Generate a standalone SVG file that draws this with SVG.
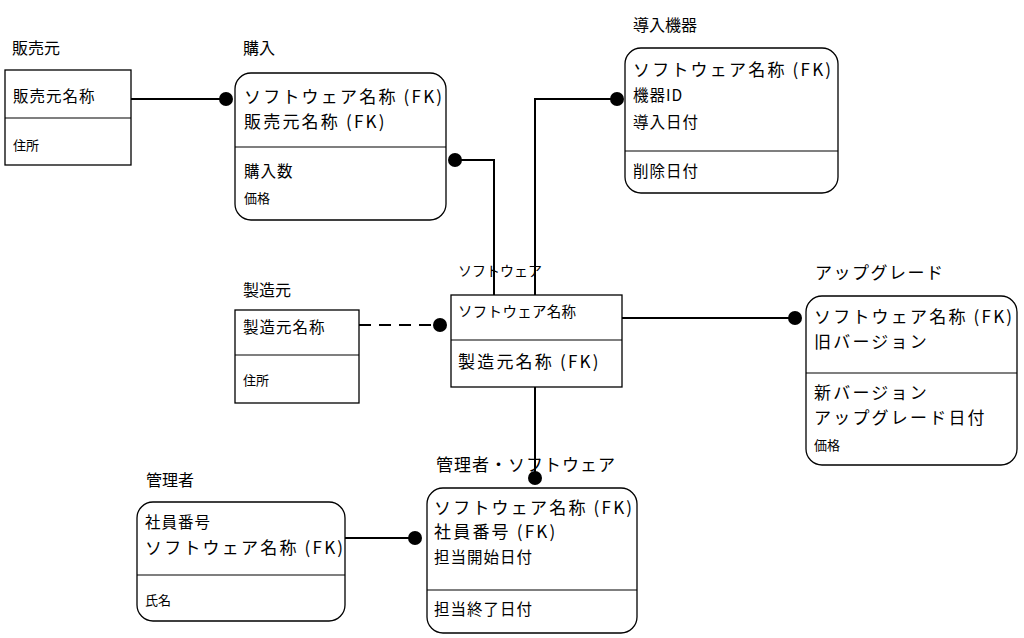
<svg xmlns="http://www.w3.org/2000/svg" width="1024" height="638" viewBox="0 0 1024 638">
<style>
.bg{fill:#fff}
.box{fill:#fff;stroke:#000;stroke-width:1.3}
.div{stroke:#000;stroke-width:1.2}
text{font-family:"Noto Sans CJK JP","Liberation Sans",sans-serif;fill:#000}
.t{font-size:16px}
.l{font-size:17px;letter-spacing:2.2px}
.m{font-size:15.5px;letter-spacing:1px}
.s{font-size:13px}
.c{stroke:#000;stroke-width:2;fill:none}
.d{fill:#000}
</style>
<rect class="bg" x="0" y="0" width="1024" height="638"/>
<g id="connectors">
<line class="c" x1="131" y1="99" x2="226" y2="99"/>
<circle class="d" cx="226" cy="99" r="7"/>
<polyline class="c" points="455,160 494,160 494,295"/>
<circle class="d" cx="455" cy="160" r="7"/>
<polyline class="c" points="617,99 535,99 535,295"/>
<circle class="d" cx="617" cy="99" r="7"/>
<line class="c" x1="359" y1="325" x2="440" y2="325" stroke-dasharray="12,8"/>
<circle class="d" cx="440" cy="325" r="7"/>
<line class="c" x1="622" y1="318" x2="795" y2="318"/>
<circle class="d" cx="795" cy="318" r="7"/>
<line class="c" x1="535" y1="387" x2="535" y2="478"/>
<circle class="d" cx="535" cy="478" r="7"/>
<line class="c" x1="345" y1="538" x2="415" y2="538"/>
<circle class="d" cx="415" cy="538" r="7"/>
</g>
<g id="hanbaimoto">
<text class="t" x="12" y="54">販売元</text>
<rect class="box" x="5" y="70" width="126" height="95"/>
<line class="div" x1="5" y1="118" x2="131" y2="118"/>
<text class="m" x="13" y="102">販売元名称</text>
<text class="s" x="13" y="150">住所</text>
</g>
<g id="konyu">
<text class="t" x="243" y="54">購入</text>
<rect class="box" x="235" y="73" width="211" height="147" rx="16"/>
<line class="div" x1="235" y1="147" x2="446" y2="147"/>
<text class="l" x="244" y="103">ソフトウェア名称 (FK)</text>
<text class="l" x="244" y="128">販売元名称 (FK)</text>
<text class="m" x="244" y="177">購入数</text>
<text class="s" x="244" y="203">価格</text>
</g>
<g id="donyukiki">
<text class="t" x="633" y="31">導入機器</text>
<rect class="box" x="625" y="48" width="213" height="145" rx="16"/>
<line class="div" x1="625" y1="151" x2="838" y2="151"/>
<text class="l" x="633" y="76">ソフトウェア名称 (FK)</text>
<text class="m" x="633" y="101">機器ID</text>
<text class="m" x="633" y="128">導入日付</text>
<text class="m" x="633" y="177">削除日付</text>
</g>
<g id="software">
<text class="t" x="458" y="276" style="font-size:14px">ソフトウェア</text>
<rect class="box" x="451" y="295" width="171" height="92"/>
<line class="div" x1="451" y1="340" x2="622" y2="340"/>
<text class="m" x="458" y="317" style="font-size:14.5px;letter-spacing:0.3px">ソフトウェア名称</text>
<text class="l" x="458" y="368">製造元名称 (FK)</text>
</g>
<g id="seizomoto">
<text class="t" x="243" y="296">製造元</text>
<rect class="box" x="235" y="310" width="124" height="93"/>
<line class="div" x1="235" y1="355" x2="359" y2="355"/>
<text class="m" x="243" y="333">製造元名称</text>
<text class="s" x="243" y="385">住所</text>
</g>
<g id="upgrade">
<text class="t" x="815" y="279" style="font-size:17px;letter-spacing:1.5px">アップグレード</text>
<rect class="box" x="806" y="296" width="211" height="169" rx="16"/>
<line class="div" x1="806" y1="373" x2="1017" y2="373"/>
<text class="l" x="814" y="323">ソフトウェア名称 (FK)</text>
<text class="l" x="814" y="348">旧バージョン</text>
<text class="l" x="814" y="399">新バージョン</text>
<text class="l" x="814" y="424">アップグレード日付</text>
<text class="s" x="814" y="450">価格</text>
</g>
<g id="kanrisha_software">
<text class="l" x="436" y="471" style="letter-spacing:1px">管理者・ソフトウェア</text>
<rect class="box" x="427" y="488" width="210" height="145" rx="16"/>
<line class="div" x1="427" y1="590" x2="637" y2="590"/>
<text class="l" x="434" y="514">ソフトウェア名称 (FK)</text>
<text class="l" x="434" y="538">社員番号 (FK)</text>
<text class="m" x="434" y="563">担当開始日付</text>
<text class="m" x="434" y="615">担当終了日付</text>
</g>
<g id="kanrisha">
<text class="t" x="146" y="486">管理者</text>
<rect class="box" x="137" y="502" width="208" height="119" rx="16"/>
<line class="div" x1="137" y1="575" x2="345" y2="575"/>
<text class="m" x="145" y="528">社員番号</text>
<text class="l" x="145" y="554">ソフトウェア名称 (FK)</text>
<text class="s" x="145" y="605">氏名</text>
</g>
</svg>
